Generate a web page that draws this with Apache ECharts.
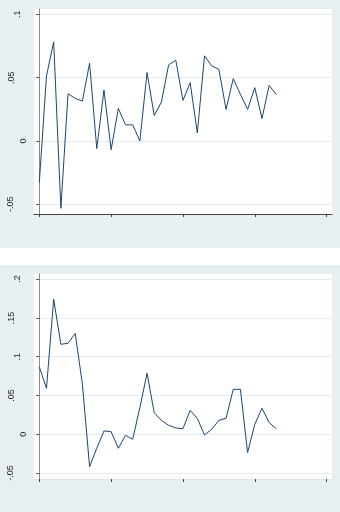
<!DOCTYPE html>
<html>
<head>
<meta charset="utf-8">
<script src="https://cdn.jsdelivr.net/npm/echarts@6/dist/echarts.min.js"></script>
<style>
html,body{margin:0;padding:0;background:#fff;}
#c{width:340px;height:512px;}
</style>
</head>
<body>
<div id="c"></div>
<script>
// Data
const topValues = [-0.0328, 0.0513, 0.0783, -0.0532, 0.0373, 0.0336, 0.0315, 0.0614, -0.0061, 0.0402,
  -0.0069, 0.0257, 0.0127, 0.0127, 0.0000, 0.0540, 0.0201, 0.0307, 0.0600, 0.0638,
  0.0320, 0.0460, 0.0063, 0.0672, 0.0593, 0.0566, 0.0249, 0.0492, 0.0368, 0.0249,
  0.0421, 0.0177, 0.0439, 0.0365];
const bottomValues = [0.0868, 0.0593, 0.1740, 0.1160, 0.1173, 0.1300, 0.0644, -0.0417, -0.0180, 0.0043,
  0.0034, -0.0180, -0.0013, -0.0064, 0.0344, 0.0786, 0.0279, 0.0180, 0.0116, 0.0082,
  0.0073, 0.0309, 0.0206, -0.0009, 0.0064, 0.0180, 0.0206, 0.0580, 0.0580, -0.0236,
  0.0129, 0.0335, 0.0150, 0.0073];
const xTicks = [0, 10, 20, 30, 40];
const topYTicks = [-0.05, 0, 0.05, 0.1];
const topYLabels = ['-.05', '0', '.05', '.1'];
const bottomYTicks = [-0.05, 0, 0.05, 0.1, 0.15, 0.2];
const bottomYLabels = ['-.05', '0', '.05', '.1', '.15', '.2'];

const chart = echarts.init(document.getElementById('c'), null, {renderer: 'canvas'});
const lineColor = '#1a476f';
const panelBg = '#e8eff1';
const gridLineColor = '#e6edf0';
const labelFont = {color: '#222', fontSize: 9, fontFamily: 'Liberation Sans, Arial, sans-serif'};
// extra offset away from the axis, by label length (style only)
const richStyles = {
  p1: Object.assign({padding: [0, 0, 0, 0]}, labelFont),
  p2: Object.assign({padding: [0, 0, 6, 0]}, labelFont),
  p3: Object.assign({padding: [0, 0, 12, 0]}, labelFont),
  p4: Object.assign({padding: [0, 0, 13, 0]}, labelFont)
};

function fmt(ticks, labels) {
  return function (v) {
    for (let i = 0; i < ticks.length; i++) {
      if (Math.abs(ticks[i] - v) < 1e-9) {
        const s = labels[i];
        return '{p' + Math.min(s.length, 4) + '|' + s + '}';
      }
    }
    return '';
  };
}

function xAxis(gridIndex, lineCol) {
  return {
    type: 'value', gridIndex: gridIndex, min: -0.74, max: 40.75,
    axisLine: {show: true, onZero: false, lineStyle: {color: lineCol, width: 1}},
    axisTick: {show: true, customValues: xTicks, length: 3, lineStyle: {color: '#444'}},
    axisLabel: {show: false},
    splitLine: {show: false}
  };
}
function yAxis(gridIndex, min, max, ticks, labels) {
  return {
    type: 'value', gridIndex: gridIndex, min: min, max: max,
    axisLine: {show: true, lineStyle: {color: '#8a8a8a', width: 1}},
    axisTick: {show: true, customValues: ticks, length: 3, lineStyle: {color: '#555'}},
    axisLabel: Object.assign({show: true, customValues: ticks, rotate: 90, margin: 6,
      formatter: fmt(ticks, labels), rich: richStyles}, labelFont),
    splitLine: {show: true, lineStyle: {color: gridLineColor, width: 1}}
  };
}

chart.setOption({
  animation: false,
  backgroundColor: panelBg,
  graphic: [{
    type: 'rect', left: 0, top: 248, z: -10,
    shape: {width: 340, height: 17},
    style: {fill: '#ffffff'}
  }],
  grid: [
    {left: 34, top: 9, width: 298, height: 205, show: true, backgroundColor: '#ffffff', borderWidth: 0},
    {left: 34, top: 274, width: 298, height: 205, show: true, backgroundColor: '#ffffff', borderWidth: 0}
  ],
  xAxis: [xAxis(0, '#444'), xAxis(1, '#dde4e7')],
  yAxis: [
    yAxis(0, -0.0577, 0.1042, topYTicks, topYLabels),
    yAxis(1, -0.0576, 0.2066, bottomYTicks, bottomYLabels)
  ],
  series: [
    {type: 'line', xAxisIndex: 0, yAxisIndex: 0, showSymbol: false,
      lineStyle: {color: lineColor, width: 1}, data: topValues.map((v, i) => [i, v])},
    {type: 'line', xAxisIndex: 1, yAxisIndex: 1, showSymbol: false,
      lineStyle: {color: lineColor, width: 1}, data: bottomValues.map((v, i) => [i, v])}
  ]
});
</script>
</body>
</html>
